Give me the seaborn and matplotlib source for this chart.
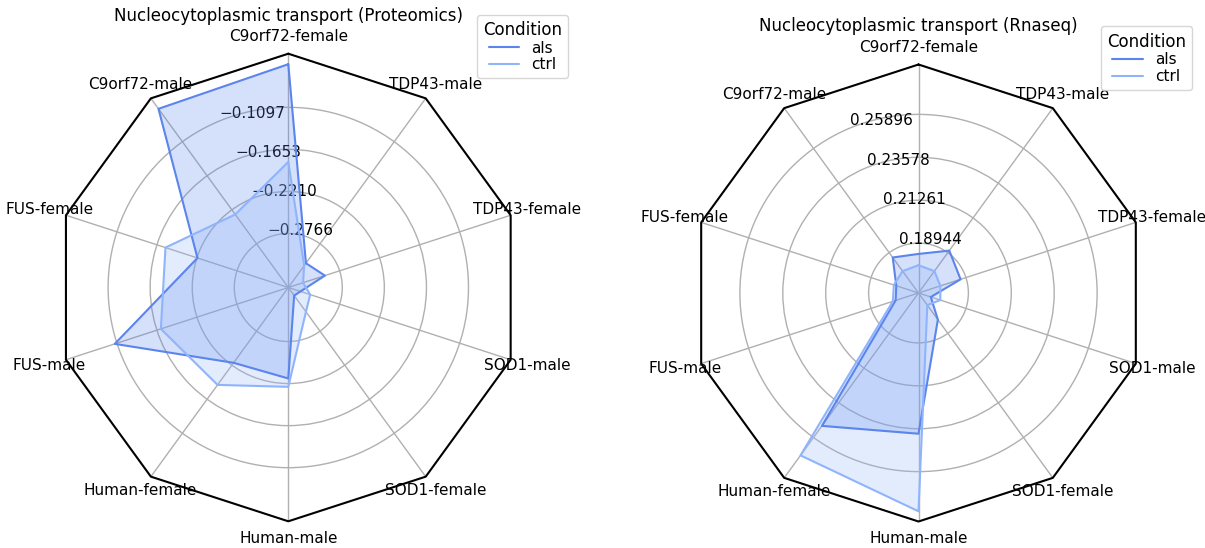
import numpy as np
import pandas as pd
import matplotlib
matplotlib.use("Agg")
import matplotlib.pyplot as plt
import seaborn as sns

categories = ["C9orf72-female", "C9orf72-male", "FUS-female", "FUS-male",
              "Human-female", "Human-male", "SOD1-female", "SOD1-male",
              "TDP43-female", "TDP43-male"]
conditions = ["als", "ctrl"]

prot_als = [-0.0527, -0.0559, -0.2217, -0.1067, -0.2249, -0.2277, -0.3348, -0.3311, -0.2971, -0.3083]
prot_ctrl = [-0.1819, -0.2286, -0.1772, -0.1708, -0.1888, -0.2166, -0.3083, -0.3176, -0.3275, -0.3123]
prot_ticks = [-0.2766, -0.2210, -0.1653, -0.1097]
prot_ticklabels = ["\u22120.2766", "\u22120.2210", "\u22120.1653", "\u22120.1097"]
prot_lim = (-0.3480, -0.0388)

rna_als = [0.1836, 0.1862, 0.1751, 0.1755, 0.2512, 0.2385, 0.1803, 0.1695, 0.1864, 0.1908]
rna_ctrl = [0.1775, 0.1771, 0.1765, 0.1771, 0.2709, 0.2804, 0.1706, 0.1749, 0.1749, 0.1771]
rna_ticks = [0.18944, 0.21261, 0.23578, 0.25896]
rna_ticklabels = ["0.18944", "0.21261", "0.23578", "0.25896"]
rna_lim = (0.1625, 0.2859)

palette = {"als": "#5b84ec", "ctrl": "#8fb4fb"}

sns.set_theme(style="white", context="notebook")
plt.rcParams["font.family"] = ["DejaVu Sans"]
for key in ["text.color", "axes.labelcolor", "xtick.color", "ytick.color"]:
    plt.rcParams[key] = "black"

fig = plt.figure(figsize=(12.05, 5.48), dpi=100)

n = len(categories)
theta = np.arange(n) * 2 * np.pi / n


def radar(ax, als, ctrl, ticks, ticklabels, lim, title):
    rows = []
    for cond, vals in zip(conditions, [als, ctrl]):
        for k, i in enumerate(list(range(n)) + [0]):
            t = 2 * np.pi if k == n else theta[i]
            rows.append({"theta": t, "value": vals[i], "Condition": cond})
    df = pd.DataFrame(rows)
    for cond in conditions:
        sub = df[df["Condition"] == cond]
        ax.fill(sub["theta"], sub["value"], color=palette[cond], alpha=0.25, linewidth=0, zorder=2)
    sns.lineplot(data=df, x="theta", y="value", hue="Condition", palette=palette,
                 sort=False, estimator=None, linewidth=1.5, ax=ax, zorder=3)
    ax.plot(np.r_[theta, theta[0]], [lim[1]] * (n + 1), color="black", lw=1.5,
            clip_on=False, zorder=4)
    ax.set_theta_offset(np.pi / 2)
    ax.set_ylim(*lim)
    ax.spines["polar"].set_visible(False)
    ax.set_xticks(theta)
    ax.set_xticklabels(categories, fontsize=11)
    ax.set_yticks(ticks)
    ax.set_yticklabels(ticklabels, fontsize=11)
    ax.set_rlabel_position(22.5)
    ax.tick_params(axis="x", pad=5.5, length=0, colors="black")
    ax.tick_params(axis="y", length=0, colors="black")
    ax.grid(True, color="#b0b0b0", lw=1)
    ax.set_xlabel("")
    ax.set_ylabel("")
    ax.set_title(title, fontsize=12, color="black")
    sns.move_legend(ax, "upper right", bbox_to_anchor=(1.115, 1.1), title="Condition",
                    labelspacing=0.12)


ax1 = fig.add_axes([54.5 / 1205, 26.7 / 548, 467.6 / 1205, 467.6 / 548], projection="polar")
radar(ax1, prot_als, prot_ctrl, prot_ticks, prot_ticklabels, prot_lim,
      "Nucleocytoplasmic transport (Proteomics)")

ax2 = fig.add_axes([690 / 1205, 26.5 / 548, 457 / 1205, 457 / 548], projection="polar")
radar(ax2, rna_als, rna_ctrl, rna_ticks, rna_ticklabels, rna_lim,
      "Nucleocytoplasmic transport (Rnaseq)")

fig.savefig("out.png", dpi=100)
